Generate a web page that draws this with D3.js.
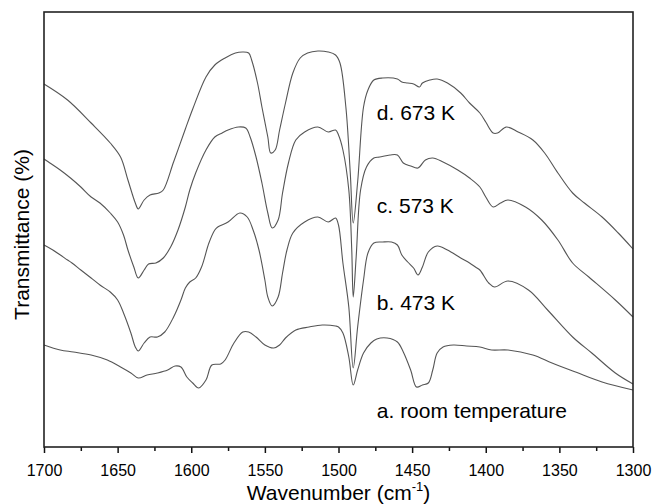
<!DOCTYPE html>
<html>
<head>
<meta charset="utf-8">
<script src="https://cdn.jsdelivr.net/npm/d3@7"></script>
<style>
  body { margin: 0; background: #fff; }
  svg text { font-family: Arial, "Liberation Sans", sans-serif; fill: #000; }
</style>
</head>
<body>
<div class="chart"></div>
<script>
// spectra, [wavenumber, transmittance (arb. units, offset)]
const specA = [[1700,102],[1689,97],[1680,95],[1668,92],[1657,87],[1648,80],[1641,74],[1636,69],[1630,72],[1623,74],[1616,77],[1611,81],[1607,80],[1603,70],[1599,64],[1595,59],[1590,67],[1586,82],[1580,83],[1577,87],[1571,104],[1565,115],[1561,115],[1556,110],[1550,102],[1544,99],[1540,102],[1536,109],[1529,117],[1520,120],[1511,122],[1502,121],[1500,120],[1497,114],[1493,90],[1490,62],[1487,77],[1483,94],[1478,104],[1474,108],[1467,109],[1460,105],[1456,95],[1451,77],[1447,60],[1443,62],[1439,64],[1436,77],[1433,94],[1429,100],[1422,102],[1413,101],[1404,100],[1396,97],[1385,97],[1368,92],[1355,84],[1339,75],[1321,65],[1300,57]]

const specB = [[1700,202],[1694,197],[1684,187],[1681,184],[1675,177],[1668,169],[1662,162],[1655,155],[1650,147],[1646,134],[1641,114],[1638,100],[1636,96],[1632,104],[1628,110],[1623,110],[1618,115],[1612,130],[1607,147],[1604,159],[1601,165],[1597,169],[1593,180],[1588,204],[1584,217],[1582,220],[1575,225],[1567,234],[1562,230],[1558,217],[1554,197],[1550,167],[1548,150],[1545,141],[1541,150],[1538,174],[1535,197],[1531,214],[1523,225],[1514,230],[1507,225],[1502,229],[1500,222],[1497,184],[1493,140],[1490,79],[1487,120],[1483,167],[1480,194],[1476,204],[1470,205],[1464,205],[1460,202],[1457,192],[1453,185],[1449,179],[1446,172],[1443,180],[1439,195],[1433,201],[1426,197],[1417,189],[1411,184],[1407,180],[1404,177],[1398,164],[1394,160],[1385,166],[1371,157],[1358,137],[1341,110],[1328,94],[1312,74],[1300,63]]

const specC = [[1700,288],[1696,284],[1689,277],[1682,269],[1675,260],[1668,250],[1662,244],[1655,234],[1650,225],[1646,212],[1643,197],[1639,180],[1636,169],[1632,177],[1629,183],[1624,184],[1619,189],[1614,200],[1609,217],[1604,240],[1601,257],[1597,274],[1590,297],[1584,310],[1579,314],[1575,317],[1568,320],[1563,319],[1560,310],[1556,290],[1552,264],[1548,234],[1545,219],[1541,227],[1538,254],[1534,284],[1529,307],[1523,315],[1514,320],[1507,315],[1502,317],[1500,312],[1497,297],[1493,257],[1491,197],[1490,150],[1488,190],[1485,257],[1481,280],[1476,289],[1472,290],[1465,292],[1460,292],[1456,284],[1451,281],[1446,279],[1441,287],[1436,289],[1429,285],[1419,277],[1411,269],[1404,260],[1400,250],[1395,240],[1390,244],[1385,247],[1373,240],[1362,227],[1351,207],[1341,184],[1330,170],[1312,147],[1300,130]]

const specD = [[1700,363],[1684,347],[1668,324],[1655,304],[1648,290],[1643,267],[1638,244],[1636,238],[1632,247],[1628,252],[1622,254],[1619,257],[1612,285],[1604,318],[1599,338],[1590,370],[1584,382],[1577,389],[1570,394],[1565,395],[1561,394],[1559,387],[1555,364],[1552,340],[1548,310],[1546,294],[1543,297],[1540,317],[1536,344],[1531,374],[1526,389],[1521,394],[1514,396],[1507,395],[1502,392],[1499,384],[1495,340],[1492,274],[1490,224],[1487,265],[1483,340],[1480,357],[1476,367],[1470,369],[1460,368],[1457,365],[1453,364],[1449,363],[1445,360],[1443,364],[1438,367],[1433,368],[1426,364],[1417,354],[1411,344],[1404,334],[1400,325],[1395,314],[1392,314],[1386,320],[1378,315],[1368,307],[1360,294],[1351,274],[1341,254],[1333,244],[1321,230],[1310,214],[1300,198]]

const seriesLabels = ["a. room temperature", "b. 473 K", "c. 573 K", "d. 673 K"]
const labelAt = [[1474,29],[1474,137],[1474,234],[1474,327]]  // label anchor in data units
const xTicks = [1700, 1650, 1600, 1550, 1500, 1450, 1400, 1350, 1300]

const margin = { top: 12, right: 22, bottom: 57, left: 44 }
const width = 655 - margin.left - margin.right
const height = 504 - margin.top - margin.bottom

const svg = d3.select(".chart")
    .append("svg")
    .attr("width", 655)
    .attr("height", 504)
    .append("g")
    .attr("transform", `translate(${margin.left},${margin.top})`)

const x = d3.scaleLinear()
    .domain([1700, 1300])
    .range([0, width])

const y = d3.scaleLinear()
    .domain([0, 435])
    .range([height, 0])

const line = d3.line()
    .x(d => x(d[0]))
    .y(d => y(d[1]))
    .curve(d3.curveCatmullRom.alpha(0.5))

svg.selectAll(".spec")
    .data([specA, specB, specC, specD])
    .enter().append("path")
    .attr("class", "spec")
    .attr("d", line)
    .style("fill", "none")
    .style("stroke", "#555")
    .style("stroke-width", 1.1)

// minor ticks
svg.append("g")
    .attr("transform", `translate(0,${height})`)
    .call(d3.axisBottom(x).tickValues(d3.range(1675, 1300, -50)).tickSize(4).tickFormat(""))
    .call(g => g.select(".domain").remove())

svg.append("g")
    .attr("class", "x axis")
    .attr("transform", `translate(0,${height})`)
    .call(d3.axisBottom(x).tickValues(xTicks).tickSize(6).tickPadding(12).tickFormat(d3.format("d")))
    .call(g => g.select(".domain").remove())
    .selectAll("text")
    .style("font-size", "16px")

svg.selectAll(".tick line").style("stroke", "#111").style("stroke-width", 1.5)

// frame
svg.append("rect")
    .attr("width", width)
    .attr("height", height)
    .style("fill", "none")
    .style("stroke", "#222")
    .style("stroke-width", 1.6)

svg.selectAll(".lab")
    .data(seriesLabels)
    .enter().append("text")
    .attr("class", "lab")
    .attr("x", (d, i) => x(labelAt[i][0]))
    .attr("y", (d, i) => y(labelAt[i][1]))
    .style("font-size", "21px")
    .text(d => d)

const xt = svg.append("text")
    .attr("x", width / 2)
    .attr("y", height + 53)
    .attr("text-anchor", "middle")
    .style("font-size", "21px")
xt.append("tspan").text("Wavenumber (cm")
xt.append("tspan").attr("dy", -9).style("font-size", "13px").text("-1")
xt.append("tspan").attr("dy", 9).text(")")

svg.append("text")
    .attr("transform", `translate(-15,${height / 2 + 5}) rotate(-90)`)
    .attr("text-anchor", "middle")
    .style("font-size", "21px")
    .text("Transmittance (%)")
</script>
</body>
</html>
